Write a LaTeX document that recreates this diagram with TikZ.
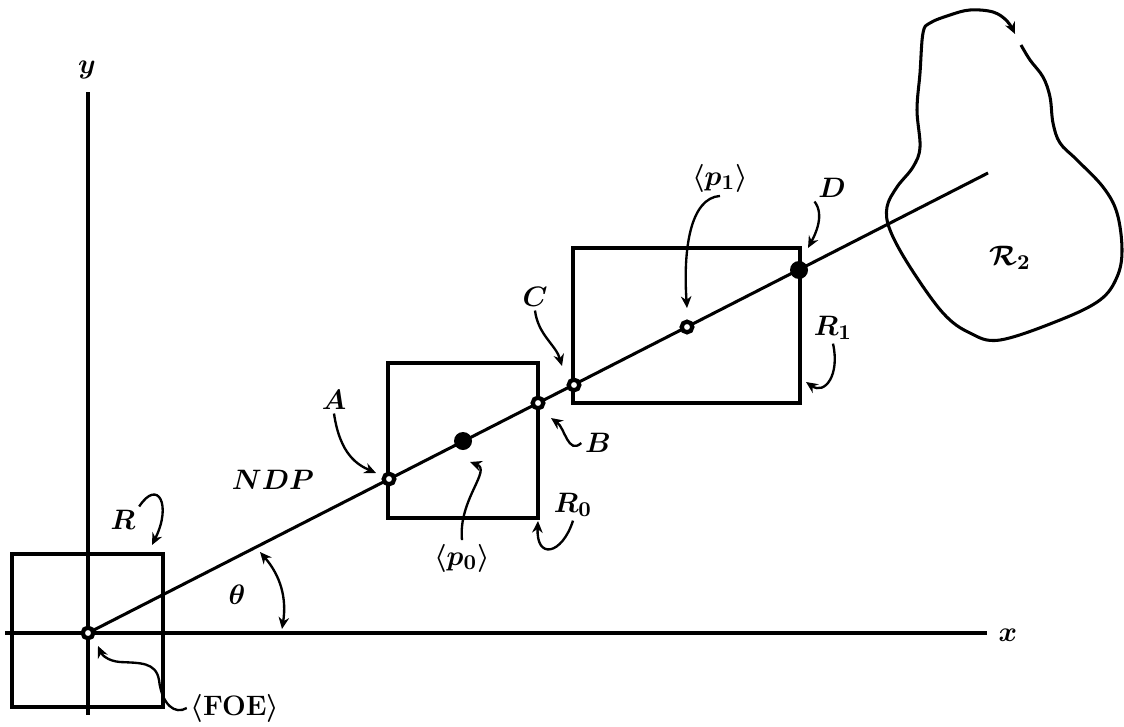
\documentclass[tikz,border=0pt]{standalone}
\usepackage{amsmath,amssymb}
\usetikzlibrary{arrows.meta,positioning}
\tikzset{
  >={Stealth[length=5pt,width=4.5pt]},
}

\begin{document}
\begin{tikzpicture}[
  x=0.015cm, y=-0.015cm,
  line width=1.3pt,
  font=\fontsize{12.5}{15}\selectfont\boldmath,
  ring/.style={circle, draw, fill=white, line width=1.8pt, minimum size=0.16cm, inner sep=0pt},
  blob/.style={circle, fill=black, minimum size=0.27cm, inner sep=0pt},
  lbl/.style={inner sep=1pt},
  pointer/.style={->, line width=1pt}
]
\useasboundingbox (0,0) rectangle (1124,726);

% axes
\coordinate (xl) at (5,633);
\coordinate (xr) at (987,633);
\coordinate (yt) at (88,92);
\coordinate (yb) at (88,715);
\draw (xl) -- (xr);
\draw (yt) -- (yb);
\node[lbl] (xlab) at (1008,635) {$x$};
\node[lbl] (ylab) at (87,70) {$y$};

% regions
\draw (12,554) rectangle (163,707);
\draw (388,363) rectangle (538,518);
\draw (573,248) rectangle (800,403);

% region R_2
\draw[->] plot[smooth, tension=0.6] coordinates {
  (1021,45) (1030,60) (1043,77) (1050,97) (1053,123) (1060,143) (1077,160)
  (1103,187) (1117,213) (1122,250) (1117,277) (1100,300) (1060,320)
  (1000,340) (970,333) (943,313) (910,267) (890,230) (887,207) (897,187)
  (913,167) (920,147) (917,110) (920,73) (923,33) (930,23) (950,15)
  (970,10) (993,12) (1007,21) (1015,34)};
\node[lbl] (lR2) at (1010,258) {$\mathcal{R}_2$};

% the line through the FOE
\coordinate (foe) at (88,633);
\coordinate (E) at (988,173);
\draw (foe) -- (E);

\node[ring] (O)  at (foe) {};
\node[ring] (A)  at (389,479) {};
\node[blob] (p0) at (463,441) {};
\node[ring] (B)  at (538,403) {};
\node[ring] (C)  at (574,385) {};
\node[ring] (p1) at (687,327) {};
\node[blob] (D)  at (799,270) {};

% labels
\node[lbl] (lR)   at (123,520) {$R$};
\node[lbl] (lth)  at (237,595) {$\theta$};
\node[lbl] (lNDP) at (273,480) {$NDP$};
\node[lbl] (lA)   at (334,400) {$A$};
\node[lbl] (lB)   at (598,443) {$B$};
\node[lbl] (lC)   at (535,297) {$C$};
\node[lbl] (lD)   at (832,188) {$D$};
\node[lbl] (lR0)  at (573,505) {$R_0$};
\node[lbl] (lR1)  at (833,328) {$R_1$};
\node[lbl] (lp0)  at (462,558) {$\langle p_0\rangle$};
\node[lbl] (lp1)  at (720,178) {$\langle p_1\rangle$};
\node[lbl] (lFOE) at (235,708) {$\langle\mathrm{FOE}\rangle$};

% pointers
\coordinate (tR)   at (152,545);
\coordinate (tA)   at (376,473);
\coordinate (tp0)  at (470,462);
\coordinate (tB)   at (551,418);
\coordinate (tR0)  at (538,521);
\coordinate (tC)   at (562,366);
\coordinate (tp1)  at (687,308);
\coordinate (tD)   at (808,248);
\coordinate (tR1)  at (806,382);
\coordinate (tFOE) at (98,646);
\coordinate (th1)  at (260,552);
\coordinate (th2)  at (282,629);

\draw[pointer] (lR.north east) .. controls (158,478) and (172,505) .. (tR);
\draw[pointer] (lA.south) .. controls (340,455) and (358,465) .. (tA);
\draw[pointer] (lp0.north) .. controls (458,500) and (492,470) .. (tp0);
\draw[pointer] (lB.west) .. controls (568,455) and (565,428) .. (tB);
\draw[pointer] (lR0.south) .. controls (562,555) and (536,560) .. (tR0);
\draw[pointer] (lC.south) .. controls (538,335) and (556,345) .. (tC);
\draw[pointer] (lp1.south) .. controls (690,198) and (683,250) .. (tp1);
\draw[pointer] (lD.south west) .. controls (825,215) and (815,235) .. (tD);
\draw[pointer] (lR1.south) .. controls (840,375) and (825,395) .. (tR1);
\draw[pointer] (lFOE.west) .. controls (175,715) and (162,705) .. (159,680)
  .. controls (156,662) and (140,663) .. (120,662)
  .. controls (108,661) and (102,655) .. (tFOE);
\draw[<->, line width=1pt] (th1) to[bend left=25] (th2);

\end{tikzpicture}
\end{document}
